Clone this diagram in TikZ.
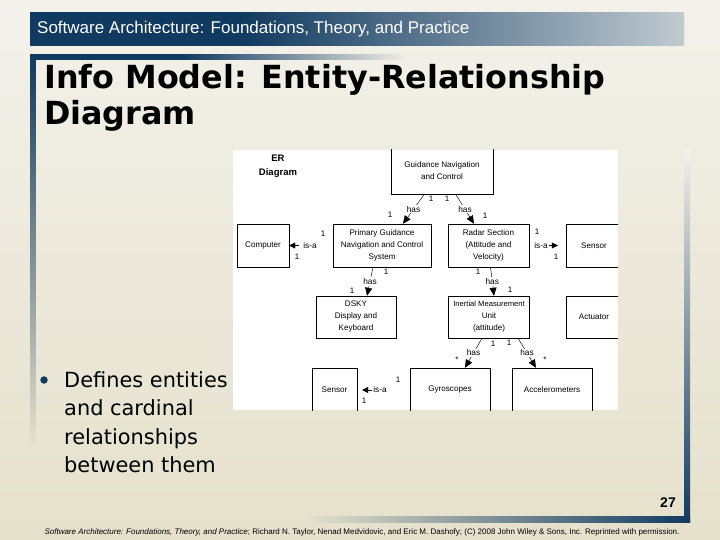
\documentclass[tikz,border=0pt]{standalone}
\usepackage{fontspec}
\setmainfont{Liberation Sans}
\newfontfamily\verdfont{DejaVu Sans}
\usepackage{xcolor}
\usetikzlibrary{arrows.meta,positioning}
\definecolor{slnavy}{RGB}{16,58,96}
\definecolor{slhdr}{RGB}{192,202,208}
\definecolor{slbgtop}{RGB}{243,241,234}
\definecolor{slbgbot}{RGB}{229,225,204}
\pgfdeclarehorizontalshading{hdrshade}{100bp}{color(0bp)=(slnavy); color(25bp)=(slnavy); color(41bp)=(slnavy); color(75bp)=(slhdr); color(100bp)=(slhdr)}
\pgfdeclarehorizontalshading{ttlshade}{100bp}{color(0bp)=(slnavy); color(25bp)=(slnavy); color(45bp)=(slnavy); color(75bp)=(slbgtop); color(100bp)=(slbgtop)}

\begin{document}
\begin{tikzpicture}[x=1pt, y=-1pt,
  ent/.style={draw, line width=0.45pt, align=center, inner sep=0pt, font=\fontsize{8.1}{12}\selectfont},
  lbl/.style={inner sep=1pt, font=\fontsize{8.3}{10}\selectfont},
  haslbl/.style={lbl, fill=white},
  card/.style={inner sep=0pt, font=\fontsize{8}{9}\selectfont},
  has/.style={-{Triangle[length=8pt,width=7pt]}, line width=0.45pt},
  isa/.style={-{Triangle[length=6pt,width=6pt]}, line width=0.45pt},
]
\useasboundingbox (0,0) rectangle (720,540);
\shade[top color=slbgtop, bottom color=slbgbot] (0,0) rectangle (720,540);
\shade[shading=hdrshade] (30,13) rectangle (684,46);
\shade[shading=ttlshade] (30,55) rectangle (410,59.5);
\shade[top color=slnavy, bottom color=slbgbot] (30,55) rectangle (35.5,445);
\shade[top color=slbgtop, bottom color=slnavy] (684,150) rectangle (690,522);
\shade[left color=slbgbot, right color=slnavy] (307,516) rectangle (690,522);

\node[anchor=west, text=white, inner sep=0pt, font=\fontsize{17}{20}\selectfont] (hdr) at (37,29.5) {Software Architecture: Foundations, Theory, and Practice};
\node[anchor=north west, inner sep=0pt, align=left, font=\verdfont\bfseries\fontsize{31.8}{36}\selectfont] (ttl) at (44,64) {Info Model: Entity-Relationship\\Diagram};
\node[circle, fill=slnavy, inner sep=0pt, minimum size=7.5pt] (dot) at (44,380) {};
\node[anchor=north west, inner sep=0pt, align=left, font=\verdfont\fontsize{20.9}{28.5}\selectfont] (bul) at (64,371) {Defines entities\\and cardinal\\relationships\\between them};
\node[font=\bfseries\fontsize{14}{16}\selectfont] (pg) at (668,503) {27};
\node[inner sep=0pt, font=\fontsize{8}{9}\selectfont] (foot) at (362,532) {\itshape Software Architecture: Foundations, Theory, and Practice\upshape; Richard N. Taylor, Nenad Medvidovic, and Eric M. Dashofy; (C) 2008 John Wiley \& Sons, Inc. Reprinted with permission.};

\fill[white] (233,150) rectangle (618,410);
\begin{scope}
\clip (233,150) rectangle (618,410);
\node[align=center, inner sep=0pt, font=\bfseries\fontsize{9.5}{14}\selectfont] (er) at (278,166) {ER\\Diagram};
\node[ent, minimum width=102pt, minimum height=47pt] (gnc) at (442,171) {Guidance Navigation\\and Control};
\node[ent, minimum width=98pt, minimum height=43pt] (pgnc) at (382,245.5) {Primary Guidance\\Navigation and Control\\System};
\node[ent, minimum width=81pt, minimum height=43pt] (radar) at (488.5,245.5) {Radar Section\\(Attitude and\\Velocity)};
\node[ent, minimum width=52pt, minimum height=43pt] (comp) at (263,245.5) {Computer};
\node[ent, minimum width=56pt, minimum height=43pt] (sensR) at (594,245.5) {Sensor};
\node[ent, minimum width=80pt, minimum height=42pt] (dsky) at (356,317) {DSKY\\Display and\\Keyboard};
\node[ent, minimum width=81pt, minimum height=42pt] (imu) at (489,317) {\fontsize{7.6}{12}\selectfont Inertial Measurement\\Unit\\(attitude)};
\node[ent, minimum width=56pt, minimum height=42pt] (act) at (594,317) {Actuator};
\node[ent, minimum width=45pt, minimum height=44pt] (sensB) at (334.5,390) {Sensor};
\node[ent, minimum width=80pt, minimum height=44pt] (gyro) at (450,390) {Gyroscopes};
\node[ent, minimum width=80pt, minimum height=44pt] (accel) at (552,390) {Accelerometers};

\draw[has] ([xshift=-18pt]gnc.south) -- ([xshift=21pt]pgnc.north) node[haslbl, midway] (h1) {has};
\draw[has] ([xshift=14pt]gnc.south) -- ([xshift=-14.5pt]radar.north) node[haslbl, midway] (h2) {has};
\draw[has] ([xshift=-9pt]pgnc.south) -- ([xshift=11pt]dsky.north) node[haslbl, midway] (h3) {has};
\draw[has] ([xshift=2pt]radar.south) -- ([xshift=5pt]imu.north) node[haslbl, midway] (h4) {has};
\draw[has] ([xshift=-7pt]imu.south) -- ([xshift=15pt]gyro.north) node[haslbl, midway] (h5) {has};
\draw[has] ([xshift=29pt]imu.south) -- ([xshift=-16pt]accel.north) node[haslbl, midway] (h6) {has};

\node[lbl] (isa1) at (310,245.5) {is-a};
\node[lbl] (isa2) at (541,245.5) {is-a};
\node[lbl] (isa3) at (380,390) {is-a};
\draw[isa, shorten <=3pt] (isa1) -- (comp);
\draw[isa, shorten >=8pt] (isa2) -- (sensR);
\draw[isa, shorten >=5pt] (isa3) -- (sensB);

\node[card] (m1) at (431,199) {1};
\node[card] (m2) at (390,215) {1};
\node[card] (m3) at (447,199) {1};
\node[card] (m4) at (485,216) {1};
\node[card] (m5) at (323,234) {1};
\node[card] (m6) at (297,257) {1};
\node[card] (m7) at (537,232) {1};
\node[card] (m8) at (556,257) {1};
\node[card] (m9) at (386,272) {1};
\node[card] (m10) at (352,291) {1};
\node[card] (m11) at (478,272) {1};
\node[card] (m12) at (510,290) {1};
\node[card] (m13) at (493,344) {1};
\node[card] (m14) at (457,360) {*};
\node[card] (m15) at (509,343) {1};
\node[card] (m16) at (545,360) {*};
\node[card] (m17) at (398,380) {1};
\node[card] (m18) at (364,401) {1};
\end{scope}
\end{tikzpicture}
\end{document}
